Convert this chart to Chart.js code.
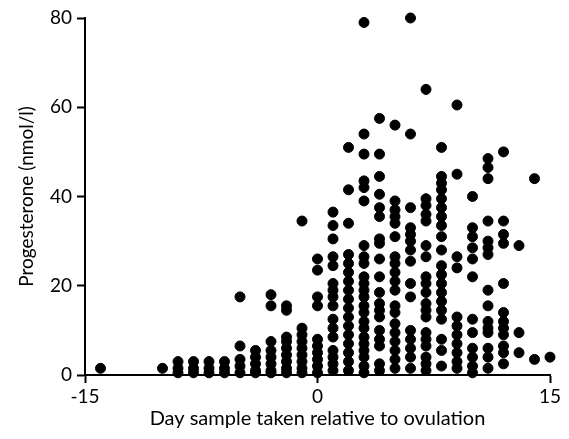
<!DOCTYPE html>
<html lang="en">
<head>
    <meta charset="UTF-8">
    <title>Progesterone by day relative to ovulation</title>
    <script src="https://cdn.jsdelivr.net/npm/chart.js"></script>
    <style>
        body {
            margin: 0;
            background: #fff;
        }
        canvas {
            display: block;
        }
    </style>
</head>
<body>
    <canvas id="progChart" width="569" height="439"></canvas>

    <script>
        // Days relative to ovulation that have samples
        const days = [-14, -10, -9, -8, -7, -6, -5, -4, -3, -2, -1, 0, 1, 2, 3, 4, 5, 6, 7, 8, 9, 10, 11, 12, 13, 14, 15];

        // Progesterone readings (nmol/l) for each day, same order as days
        const progesterone = [
            [1.5],
            [1.5],
            [3, 1.5, 0.5],
            [3, 1.5, 0.5],
            [3, 1.5, 0.5],
            [3, 1.5, 0.5],
            [17.5, 6.5, 3.5, 2, 0.5],
            [5.5, 4, 2.5, 1, 0.5],
            [18, 15.5, 7.5, 5.5, 4, 2.5, 1, 0.5],
            [15.5, 14.5, 8.5, 7.5, 6, 4.5, 3, 1.5, 0.5],
            [34.5, 10.5, 9, 7.5, 6, 4.5, 3, 1.5, 0.5],
            [26, 23.5, 17.5, 15.5, 8, 6.5, 5, 3.5, 2, 0.5],
            [36.5, 33.5, 30.5, 26.5, 24.5, 20.5, 19, 17.5, 15.5, 12.5, 10.5, 8.5, 5.5, 4, 2.5, 1],
            [51, 41.5, 34, 27, 25, 23, 21, 19, 17, 15, 13, 11, 9, 7, 5, 3, 1],
            [79, 54, 49.5, 43.5, 42, 39, 29, 26.5, 25, 22, 20.5, 19, 17.5, 15.5, 14, 12, 10.5, 8.5, 7, 5.5, 4, 2, 0.5],
            [57.5, 49.5, 44.5, 40.5, 37.5, 35.5, 30.5, 29.5, 26, 22, 18.5, 16, 14.5, 13, 10, 8, 6.5, 2.5, 1],
            [56, 39, 37, 35.5, 34, 31, 26.5, 25, 23, 21, 19, 15.5, 14, 11.5, 9.5, 7.5, 5.5, 3.5, 1.5],
            [80, 54, 37.5, 33, 31.5, 30, 28, 25.5, 20.5, 17.5, 10, 8, 6, 4, 1.5],
            [64, 39.5, 38, 36, 34.5, 29, 26.5, 22, 20.5, 18.5, 16, 14.5, 13, 9.5, 8, 6.5, 4, 2.5, 1],
            [51, 44.5, 43, 41.5, 39.5, 37.5, 35.5, 33.5, 31, 28, 24.5, 22.5, 20.5, 18.5, 16.5, 14.5, 12.5, 8, 5.5, 2],
            [60.5, 45, 26.5, 24, 13, 11, 9, 7, 5, 3, 1.5],
            [40, 33, 31, 28.5, 26, 22, 12.5, 9.5, 6, 4, 2, 0.5],
            [48.5, 46.5, 44, 34.5, 30, 28.5, 27, 19, 15.5, 12, 10.5, 9.5, 6, 4, 1.5],
            [50, 34.5, 31.5, 29.5, 20.5, 14, 12, 10.5, 9, 6.5, 5, 2.5],
            [29, 9.5, 5],
            [44, 3.5],
            [4]
        ];

        const xTicks = [-15, 0, 15];
        const yTicks = [0, 20, 40, 60, 80];

        // flatten into scatter points
        const points = [];
        days.forEach((d, i) => {
            progesterone[i].forEach(v => points.push({ x: d, y: v }));
        });

        const tickFont = { family: 'Lato, "DejaVu Sans", sans-serif', size: 19 };
        const titleFont = { family: 'Lato, "DejaVu Sans", sans-serif', size: 20 };

        const ctx = document.getElementById('progChart').getContext('2d');
        new Chart(ctx, {
            type: 'scatter',
            data: {
                datasets: [{
                    data: points,
                    backgroundColor: '#000',
                    borderColor: '#000',
                    pointRadius: 5,
                    pointHoverRadius: 5,
                    clip: false
                }]
            },
            options: {
                responsive: false,
                animation: false,
                layout: { padding: { top: 18, right: 19, left: 0, bottom: 0 } },
                plugins: {
                    legend: { display: false },
                    tooltip: { enabled: false }
                },
                scales: {
                    x: {
                        type: 'linear',
                        min: -15,
                        max: 15,
                        afterBuildTicks: (scale) => {
                            scale.ticks = xTicks.map(v => ({ value: v }));
                        },
                        afterFit: (scale) => { scale.height = 64; },
                        border: { display: true, color: '#000', width: 2 },
                        grid: { drawOnChartArea: false, drawTicks: true, tickLength: 8, tickWidth: 2, tickColor: '#000' },
                        ticks: { color: '#000', font: tickFont, padding: 2, maxRotation: 0 },
                        title: {
                            display: true,
                            text: 'Day sample taken relative to ovulation',
                            color: '#000',
                            font: titleFont,
                            padding: { top: 0, bottom: 8 }
                        }
                    },
                    y: {
                        min: 0,
                        max: 80,
                        afterBuildTicks: (scale) => {
                            scale.ticks = yTicks.map(v => ({ value: v }));
                        },
                        afterFit: (scale) => { scale.width = 85; },
                        border: { display: true, color: '#000', width: 2 },
                        grid: { drawOnChartArea: false, drawTicks: true, tickLength: 8, tickWidth: 2, tickColor: '#000' },
                        ticks: { color: '#000', font: tickFont, padding: 5 },
                        title: {
                            display: true,
                            text: 'Progesterone (nmol/l)',
                            color: '#000',
                            font: { family: 'Lato, "DejaVu Sans", sans-serif', size: 19 },
                            padding: { top: 15, bottom: 0 }
                        }
                    }
                }
            }
        });
    </script>
</body>
</html>
